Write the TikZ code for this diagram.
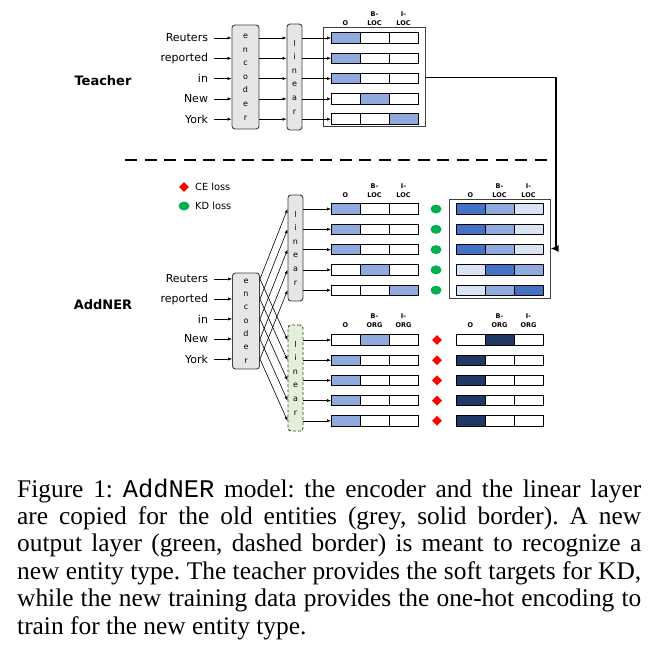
\documentclass[tikz,border=0pt]{standalone}
\usepackage{fontspec}
\setmainfont{Liberation Serif}
\setmonofont{Liberation Mono}
\newfontfamily\dfont{DejaVu Sans}
\usetikzlibrary{arrows.meta,shapes.geometric}
\frenchspacing
\definecolor{mblue}{HTML}{8FAADC}
\definecolor{dblue}{HTML}{4472C4}
\definecolor{lblue}{HTML}{DAE3F3}
\definecolor{navy}{HTML}{1F3864}
\definecolor{boxgray}{HTML}{E7E6E6}
\definecolor{boxgreen}{HTML}{E2F0D9}
\definecolor{kdgreen}{HTML}{00B050}
\definecolor{edgegray}{HTML}{404040}
\tikzset{
  word/.style={font=\dfont\fontsize{11}{13}\selectfont, anchor=east, inner sep=3pt, outer sep=3pt},
  arr/.style={-{Latex[length=4pt,width=3.2pt]}, line width=0.6pt, black},
  enc/.style={draw=edgegray, fill=boxgray, rounded corners=3pt, line width=0.9pt, minimum width=27pt, minimum height=104pt, align=center, inner sep=0pt, font=\dfont\fontsize{8}{13.6}\selectfont},
  lin/.style={enc, minimum width=15pt, minimum height=106pt},
  newlin/.style={lin, fill=boxgreen, dash pattern=on 3pt off 2pt},
  cell/.style={draw=black, line width=0.9pt, minimum width=29pt, minimum height=10.5pt, inner sep=0pt, outer sep=0pt, anchor=west},
  outframe/.style={draw=edgegray, line width=1pt, fill=white, inner sep=0pt},
  hdr/.style={font=\dfont\bfseries\fontsize{6.5}{8.8}\selectfont, align=center, anchor=south, inner sep=1pt},
  ttl/.style={font=\dfont\bfseries\fontsize{13}{15}\selectfont},
  lgd/.style={font=\dfont\fontsize{9.8}{11}\selectfont, anchor=west, inner sep=0pt},
  kd/.style={ellipse, fill=kdgreen, minimum width=11pt, minimum height=9pt, inner sep=0pt},
  ce/.style={diamond, fill=red, minimum width=10pt, minimum height=10pt, inner sep=0pt},
  captext/.style={font=\fontsize{25.4}{27.4}\selectfont, anchor=base west, inner sep=0pt},
  bigarr/.style={-{Latex[length=8pt,width=7pt]}, line width=1.8pt},
}
\newcommand\mkbar[6]{%
  \node[cell, fill=#4] (#1a) at (#2,#3) {};
  \node[cell, fill=#5] (#1b) at (#1a.east) {};
  \node[cell, fill=#6] (#1c) at (#1b.east) {};
}
\begin{document}
\begin{tikzpicture}[x=1pt,y=-1pt]
\useasboundingbox[fill=white] (0,0) rectangle (664,666);

% ---------------- Teacher ----------------
\node[ttl] (teacher) at (103,81) {Teacher};
\node[word] (tw1) at (214,38) {Reuters};
\node[word] (tw2) at (214,58.3) {reported};
\node[word] (tw3) at (214,78.6) {in};
\node[word] (tw4) at (214,98.9) {New};
\node[word] (tw5) at (214,119.2) {York};
\node[enc] (tenc) at (245.5,77) {e\\n\\c\\o\\d\\e\\r};
\node[lin] (tlin) at (294.5,77) {l\\i\\n\\e\\a\\r};
\node[outframe, minimum width=102pt, minimum height=99pt] (tframe) at (374,77.5) {};
\mkbar{t1}{331}{38}{mblue}{white}{white}
\mkbar{t2}{331}{58.3}{mblue}{white}{white}
\mkbar{t3}{331}{78.6}{mblue}{white}{white}
\mkbar{t4}{331}{98.9}{white}{mblue}{white}
\mkbar{t5}{331}{119.2}{white}{white}{mblue}
\node[hdr] (th1) at (t1a.center |- 0,27) {O};
\node[hdr] (th2) at (t1b.center |- 0,27) {B-\\LOC};
\node[hdr] (th3) at (t1c.center |- 0,27) {I-\\LOC};
\foreach \i in {1,...,5}{
  \draw[arr] (tw\i.east) -- (tenc.west |- tw\i.east);
  \draw[arr] (tenc.east |- tw\i.east) -- (tlin.west |- tw\i.east);
  \draw[arr] (tlin.east |- t\i a.west) -- (t\i a.west);
}

% separator
\coordinate (sepL) at (125,160);
\coordinate (sepR) at (551,160);
\draw[line width=2.5pt, dash pattern=on 12pt off 7.5pt] (sepL) -- (sepR);

% legend
\node[ce] (lce) at (184,187) {};
\node[lgd] (lcet) at (195,187) {CE loss};
\node[kd] (lkd) at (184,206) {};
\node[lgd] (lkdt) at (195,206) {KD loss};

% ---------------- AddNER ----------------
\node[ttl] (addner) at (103,305) {AddNER};
\node[word] (aw1) at (214,279) {Reuters};
\node[word] (aw2) at (214,299) {reported};
\node[word] (aw3) at (214,319) {in};
\node[word] (aw4) at (214,339) {New};
\node[word] (aw5) at (214,359) {York};
\node[enc, minimum height=96pt, font=\dfont\fontsize{8}{13.3}\selectfont] (aenc) at (246,321) {e\\n\\c\\o\\d\\e\\r};
\node[lin] (alin) at (295.5,248) {l\\i\\n\\e\\a\\r};
\node[newlin] (glin) at (295.5,378) {l\\i\\n\\e\\a\\r};

% student old-entity outputs
\mkbar{a1}{331}{209}{mblue}{white}{white}
\mkbar{a2}{331}{229.3}{mblue}{white}{white}
\mkbar{a3}{331}{249.6}{mblue}{white}{white}
\mkbar{a4}{331}{269.9}{white}{mblue}{white}
\mkbar{a5}{331}{290.2}{white}{white}{mblue}
\node[hdr] (ah1) at (a1a.center |- 0,198.5) {O};
\node[hdr] (ah2) at (a1b.center |- 0,198.5) {B-\\LOC};
\node[hdr] (ah3) at (a1c.center |- 0,198.5) {I-\\LOC};

% teacher soft targets
\node[outframe, minimum width=101pt, minimum height=99pt] (rframe) at (499.5,248.5) {};
\mkbar{s1}{456}{209}{dblue}{mblue}{lblue}
\mkbar{s2}{456}{229.3}{dblue}{mblue}{lblue}
\mkbar{s3}{456}{249.6}{dblue}{mblue}{lblue}
\mkbar{s4}{456}{269.9}{lblue}{dblue}{mblue}
\mkbar{s5}{456}{290.2}{lblue}{mblue}{dblue}
\node[hdr] (sh1) at (s1a.center |- 0,198.5) {O};
\node[hdr] (sh2) at (s1b.center |- 0,198.5) {B-\\LOC};
\node[hdr] (sh3) at (s1c.center |- 0,198.5) {I-\\LOC};

% new-entity outputs
\mkbar{g1}{331}{340}{white}{mblue}{white}
\mkbar{g2}{331}{360.2}{mblue}{white}{white}
\mkbar{g3}{331}{380.4}{mblue}{white}{white}
\mkbar{g4}{331}{400.6}{mblue}{white}{white}
\mkbar{g5}{331}{420.8}{mblue}{white}{white}
\node[hdr] (gh1) at (g1a.center |- 0,328.5) {O};
\node[hdr] (gh2) at (g1b.center |- 0,328.5) {B-\\ORG};
\node[hdr] (gh3) at (g1c.center |- 0,328.5) {I-\\ORG};

% one-hot targets
\mkbar{h1}{456}{340}{white}{navy}{white}
\mkbar{h2}{456}{360.2}{navy}{white}{white}
\mkbar{h3}{456}{380.4}{navy}{white}{white}
\mkbar{h4}{456}{400.6}{navy}{white}{white}
\mkbar{h5}{456}{420.8}{navy}{white}{white}
\node[hdr] (hh1) at (h1a.center |- 0,328.5) {O};
\node[hdr] (hh2) at (h1b.center |- 0,328.5) {B-\\ORG};
\node[hdr] (hh3) at (h1c.center |- 0,328.5) {I-\\ORG};

% loss markers
\foreach \i in {1,...,5}{
  \node[kd] (kd\i) at (436, 0 |- a\i a.west) {};
  \node[ce] (ce\i) at (437, 0 |- g\i a.west) {};
}

% connectors
\foreach \i in {1,...,5}{
  \draw[arr] (aw\i.east) -- (aenc.west |- aw\i.east);
  \draw[arr] (aenc.east |- aw\i.east) -- (alin.west |- a\i a.west);
  \draw[arr] (aenc.east |- aw\i.east) -- (glin.west |- g\i a.west);
  \draw[arr] (alin.east |- a\i a.west) -- (a\i a.west);
  \draw[arr] (glin.east |- g\i a.west) -- (g\i a.west);
}

% teacher to soft targets
\coordinate (bend) at (556,77.5);
\draw[bigarr] (tframe.east) -- (bend) |- (rframe.east);

% ---------------- caption ----------------
\node[captext] (cap1) at (17,497) {\makebox[624pt][s]{Figure 1: \texttt{AddNER} model: the encoder and the linear layer}};
\node[captext] (cap2) at (17,524.4) {\makebox[624pt][s]{are copied for the old entities (grey, solid border). A new}};
\node[captext] (cap3) at (17,551.8) {\makebox[624pt][s]{output layer (green, dashed border) is meant to recognize a}};
\node[captext] (cap4) at (17,579.2) {\makebox[624pt][s]{new entity type. The teacher provides the soft targets for KD,}};
\node[captext] (cap5) at (17,606.6) {\makebox[624pt][s]{while the new training data provides the one-hot encoding to}};
\node[captext] (cap6) at (17,634) {train for the new entity type.};
\end{tikzpicture}
\end{document}
